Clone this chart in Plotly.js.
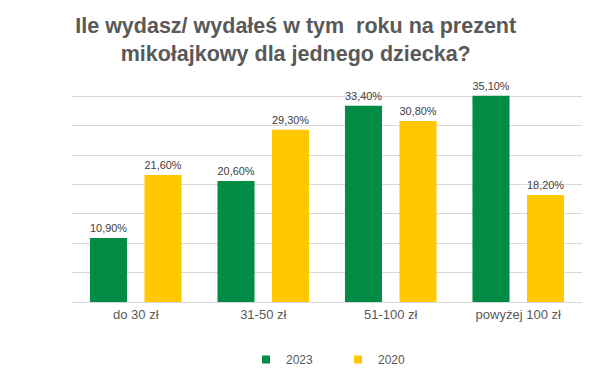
<!DOCTYPE html>
<html>
<head>
<meta charset="utf-8">
<script src="https://cdn.plot.ly/plotly-3.0.1.min.js"></script>
<style>html,body{margin:0;padding:0;background:#fff;}#chart{width:611px;height:391px;}</style>
</head>
<body>
<div id="chart"></div>
<script>
const categories = ["do 30 zł", "31-50 zł", "51-100 zł", "powyżej 100 zł"];
const values2023 = [10.9, 20.6, 33.4, 35.1];
const values2020 = [21.6, 29.3, 30.8, 18.2];
const seriesNames = ["2023", "2020"];
const seriesColors = ["#008C44", "#FFC800"];

const common = {
  type: "bar",
  x: categories,
  texttemplate: "%{y:.2f}%",
  textposition: "outside",
  cliponaxis: false,
  textfont: {family: "Liberation Sans, Arial, sans-serif", size: 12.5, color: "#404040"},
  hoverinfo: "skip",
  showlegend: false
};

const data = [
  Object.assign({}, common, {name: seriesNames[0], y: values2023, marker: {color: seriesColors[0]}}),
  Object.assign({}, common, {name: seriesNames[1], y: values2020, marker: {color: seriesColors[1]}}),
  {type: "scatter", mode: "markers", x: [null], y: [null], name: seriesNames[0],
   marker: {symbol: "square", size: 8, color: seriesColors[0]}, hoverinfo: "skip"},
  {type: "scatter", mode: "markers", x: [null], y: [null], name: seriesNames[1],
   marker: {symbol: "square", size: 8, color: seriesColors[1]}, hoverinfo: "skip"}
];

const layout = {
  width: 611, height: 391,
  margin: {l: 72, r: 29, t: 67, b: 89},
  paper_bgcolor: "#fff", plot_bgcolor: "#fff",
  separators: ", ",
  font: {family: "Liberation Sans, Arial, sans-serif", color: "#595959"},
  title: {
    text: "<b>Ile wydasz/ wydałeś w tym  roku na prezent<br>mikołajkowy dla jednego dziecka?</b>",
    font: {family: "Liberation Sans, Arial, sans-serif", size: 21.5, color: "#595959"},
    x: 0.484, xanchor: "center", xref: "container",
    y: 0.916, yanchor: "top", yref: "container"
  },
  barmode: "group",
  bargap: 0.145,
  bargroupgap: 0.32,
  xaxis: {
    type: "category",
    showgrid: false, showline: true, linecolor: "#d9d9d9", linewidth: 1,
    ticks: "", tickfont: {size: 13, color: "#595959"}, fixedrange: true
  },
  yaxis: {
    range: [0, 40], dtick: 5, showgrid: true, gridcolor: "#d9d9d9", gridwidth: 1,
    showticklabels: false, zeroline: false, ticks: "", fixedrange: true
  },
  showlegend: true,
  legend: {
    orientation: "h", x: 0.5216, xanchor: "center", y: -0.183, yanchor: "top",
    font: {size: 12, color: "#595959"}, entrywidth: 47, traceorder: "normal"
  }
};

Plotly.newPlot("chart", data, layout, {displayModeBar: false, staticPlot: true});
</script>
</body>
</html>
